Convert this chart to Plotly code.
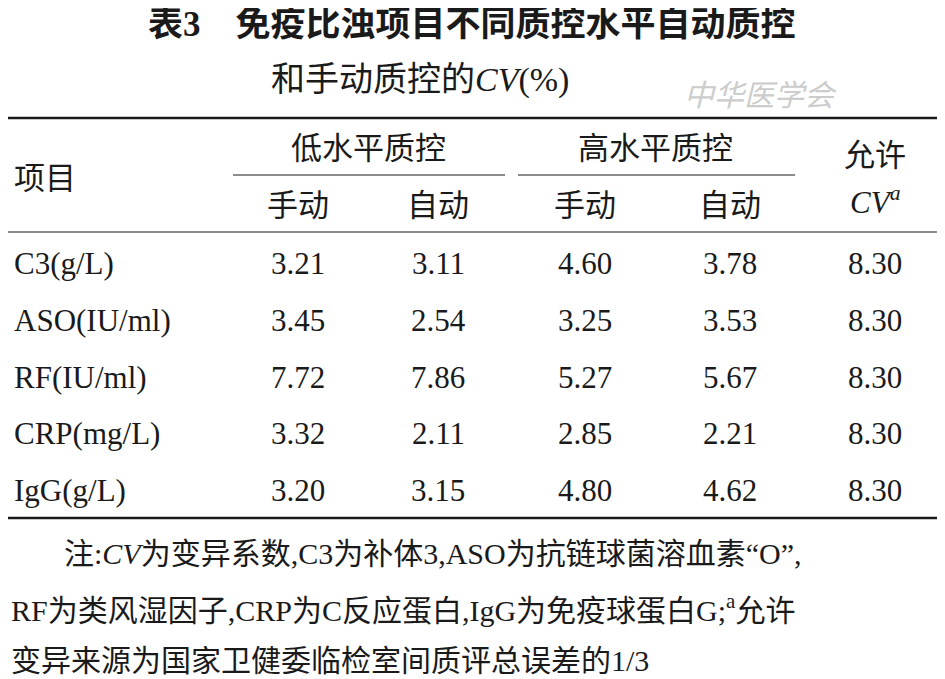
import plotly.graph_objects as go

items = ["C3(g/L)", "ASO(IU/ml)", "RF(IU/ml)", "CRP(mg/L)", "IgG(g/L)"]
low_manual = ["3.21", "3.45", "7.72", "3.32", "3.20"]
low_auto = ["3.11", "2.54", "7.86", "2.11", "3.15"]
high_manual = ["4.60", "3.25", "5.27", "2.85", "4.80"]
high_auto = ["3.78", "3.53", "5.67", "2.21", "4.62"]
allowed_cv = ["8.30", "8.30", "8.30", "8.30", "8.30"]

title1 = "<b>表3</b>　<b>免疫比浊项目不同质控水平自动质控</b>"
title2 = "和手动质控的<i>CV</i>(%)"
notes = ["注:<i>CV</i>为变异系数,C3为补体3,ASO为抗链球菌溶血素“O”,",
         "RF为类风湿因子,CRP为C反应蛋白,IgG为免疫球蛋白G;<sup>a</sup>允许",
         "变异来源为国家卫健委临检室间质评总误差的1/3"]

CJK = "Liberation Serif, Noto Sans CJK SC"
FS = 31
col_x = [298, 438, 585, 730, 875]
row_y = [263, 320, 377, 433, 490]

fig = go.Figure()
fig.update_xaxes(range=[8, 953], visible=False, fixedrange=True)
fig.update_yaxes(range=[687, 8], visible=False, fixedrange=True)
fig.update_layout(width=945, height=679, margin=dict(l=0, r=0, t=0, b=0),
                  plot_bgcolor="white", paper_bgcolor="white", showlegend=False)

def txt(x, y, s, size=FS, anchor="center", color="#1a1a1a", font=CJK):
    fig.add_annotation(x=x, y=y, text=s, showarrow=False, xanchor=anchor, yanchor="middle",
                       font=dict(size=size, color=color, family=font))

txt(472, 24, title1, size=35)
txt(420, 80, title2, size=34)
txt(760, 95, "<i>中华医学会</i>", size=30, color="#cccccc")

def line(x0, x1, y, w):
    fig.add_shape(type="line", x0=x0, x1=x1, y0=y, y1=y, line=dict(color="#1a1a1a", width=w))

line(0, 953, 118, 2.5)
line(233, 505, 175, 1.2)
line(518, 795, 175, 1.2)
line(0, 953, 232, 1.2)
line(0, 953, 518, 2.5)

txt(12, 178, "项目", anchor="left")
txt(368, 148, "低水平质控")
txt(655, 148, "高水平质控")
txt(875, 155, "允许")
txt(875, 200, "<i>CV<sup>a</sup></i>")
for x, s in zip(col_x[:4], ["手动", "自动", "手动", "自动"]):
    txt(x, 205, s)

cols = [low_manual, low_auto, high_manual, high_auto, allowed_cv]
for i, y in enumerate(row_y):
    txt(12, y, items[i], anchor="left")
    for x, c in zip(col_x, cols):
        txt(x, y, c[i])

txt(62, 553, notes[0], size=30, anchor="left")
txt(9, 608, notes[1], size=30, anchor="left")
txt(9, 660, notes[2], size=30, anchor="left")

fig.write_html("out.html")
